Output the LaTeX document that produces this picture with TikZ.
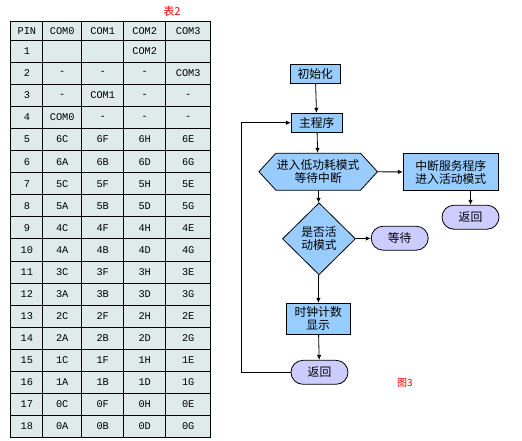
\documentclass[tikz,border=0pt]{standalone}
\usepackage{fontspec}
\usepackage{xcolor}
\usepackage{tikz}
\usetikzlibrary{shapes.geometric,shapes.misc,shapes.symbols,arrows.meta,calc}
\newfontfamily\cjk{Noto Sans CJK SC}
\newfontfamily\tabmono{Liberation Mono}
\definecolor{boxblue}{HTML}{99CCFF}
\definecolor{pill}{HTML}{CCCCFF}
\definecolor{cellbg}{HTML}{DFEBEB}
\definecolor{capred}{HTML}{FF0000}
\newcommand{\pinrow}[6]{%
    % #1=row, #2=PIN, #3..#6=COM0..COM3
    \pgfmathsetmacro{\ry}{#1==0 ? 30.8 : 40.3+22.06*(#1-0.5)}
    \pgfmathsetmacro{\rh}{#1==0 ? 19 : 22.06}
    \node[cell, minimum width=32pt, minimum height=\rh pt] (pin#1) at (26.85,\ry) {#2};
    \node[cell, minimum width=39pt, minimum height=\rh pt] (coma#1) at (62.2,\ry) {#3};
    \node[cell, minimum width=42pt, minimum height=\rh pt] (comb#1) at (102.7,\ry) {#4};
    \node[cell, minimum width=42pt, minimum height=\rh pt] (comc#1) at (144.7,\ry) {#5};
    \node[cell, minimum width=45pt, minimum height=\rh pt] (comd#1) at (188.2,\ry) {#6};
}

\begin{document}
\begin{tikzpicture}[x=1pt, y=-1pt,
    cell/.style={rectangle, draw, line width=0.8pt, fill=cellbg, inner sep=0pt, font=\tabmono\fontsize{10.3}{12}\selectfont},
    box/.style={rectangle, draw, line width=0.8pt, fill=boxblue, align=center, inner sep=1pt, font=\cjk\fontsize{11.8}{13}\selectfont},
    hexa/.style={signal, signal to=west and east, signal pointer angle=95, draw, line width=0.8pt, fill=boxblue, align=center, inner sep=1pt, font=\cjk\fontsize{11.8}{13}\selectfont},
    decide/.style={diamond, draw, line width=0.8pt, fill=boxblue, align=center, inner sep=0pt, font=\cjk\fontsize{11.8}{13}\selectfont},
    pillbox/.style={rounded rectangle, draw, line width=0.8pt, fill=pill, minimum width=59pt, minimum height=24pt, inner sep=1pt, font=\cjk\fontsize{11.8}{13}\selectfont},
    flow/.style={line width=0.8pt, -{Latex[length=5pt,width=4.5pt]}},
    caption/.style={text=capred, inner sep=0pt, font=\cjk\fontsize{11}{12}\selectfont}
]
    \useasboundingbox (0,0) rectangle (522,440);

    \node[caption] (tabcap) at (172,11) {表2};
    \pinrow{0}{PIN}{COM0}{COM1}{COM2}{COM3}
    \pinrow{1}{1}{}{}{COM2}{}
    \pinrow{2}{2}{-}{-}{-}{COM3}
    \pinrow{3}{3}{-}{COM1}{-}{-}
    \pinrow{4}{4}{COM0}{-}{-}{-}
    \pinrow{5}{5}{6C}{6F}{6H}{6E}
    \pinrow{6}{6}{6A}{6B}{6D}{6G}
    \pinrow{7}{7}{5C}{5F}{5H}{5E}
    \pinrow{8}{8}{5A}{5B}{5D}{5G}
    \pinrow{9}{9}{4C}{4F}{4H}{4E}
    \pinrow{10}{10}{4A}{4B}{4D}{4G}
    \pinrow{11}{11}{3C}{3F}{3H}{3E}
    \pinrow{12}{12}{3A}{3B}{3D}{3G}
    \pinrow{13}{13}{2C}{2F}{2H}{2E}
    \pinrow{14}{14}{2A}{2B}{2D}{2G}
    \pinrow{15}{15}{1C}{1F}{1H}{1E}
    \pinrow{16}{16}{1A}{1B}{1D}{1G}
    \pinrow{17}{17}{0C}{0F}{0H}{0E}
    \pinrow{18}{18}{0A}{0B}{0D}{0G}

    \node[box, minimum width=50pt, minimum height=19pt] (init) at (315.3,73.7) {初始化};
    \node[box, minimum width=51pt, minimum height=19pt] (main) at (316.8,122.7) {主程序};
    \node[hexa, minimum width=118pt, minimum height=37pt] (sleep) at (318.2,171.7) {进入低功耗模式\\等待中断};
    \node[box, minimum width=95pt, minimum height=37pt] (isr) at (450.8,172) {中断服务程序\\进入活动模式};
    \node[pillbox] (ret1) at (470.5,217.2) {返回};
    \node[decide, minimum width=73pt, minimum height=72pt] (active) at (319,238.8) {是否活\\动模式};
    \node[pillbox] (wait) at (399.7,238.2) {等待};
    \node[box, minimum width=64pt, minimum height=31pt] (clock) at (318.2,318.8) {时钟计数\\显示};
    \node[pillbox] (ret2) at (319.5,372.3) {返回};
    \node[caption, font=\cjk\fontsize{10}{11}\selectfont] (figcap) at (405,383) {图3};
    \coordinate (back) at (241,372.3);

    \draw[flow] (init) -- (main);
    \draw[flow] (main) -- (sleep);
    \draw[flow] (sleep) -- (isr);
    \draw[flow] (isr.south -| ret1) -- (ret1);
    \draw[flow] (sleep) -- (active);
    \draw[flow] (active) -- (wait);
    \draw[flow] (active) -- (clock);
    \draw[flow] (clock) -- (ret2);
    \draw[flow] (ret2) -- (back) |- (main);
\end{tikzpicture}
\end{document}
